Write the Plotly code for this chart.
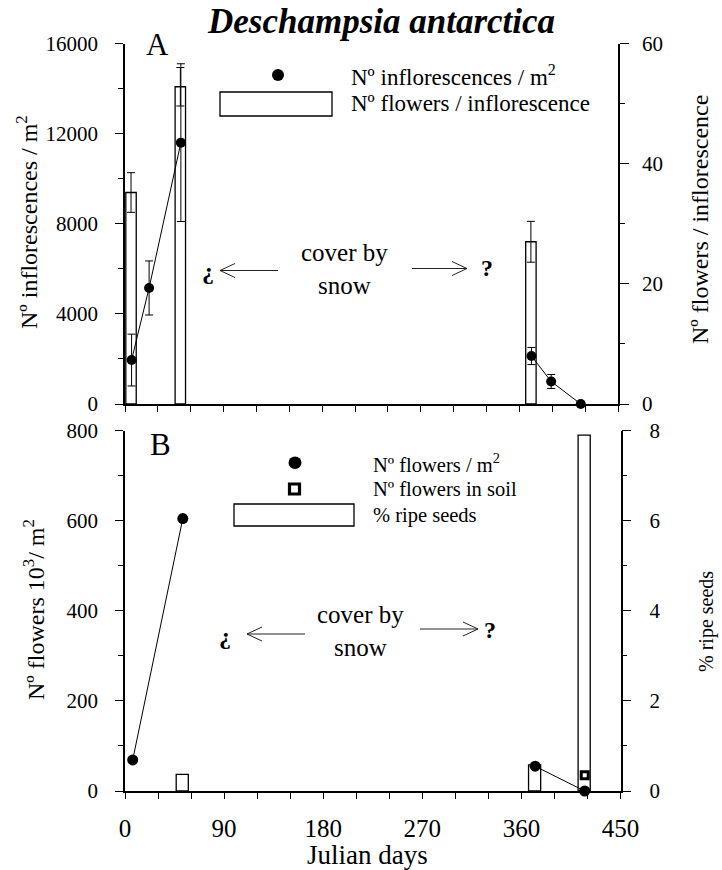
import plotly.graph_objects as go

# ---- Panel A: inflorescence density (left axis) and flowers per inflorescence (right axis)
infl_days = [6, 22, 51, 371, 389, 416]
infl_per_m2 = [1950, 5150, 11600, 2130, 1000, 0]
infl_sd = [1150, 1200, 3500, 380, 310, 0]

fpi_days = [5.5, 50.5, 370.5]
flowers_per_infl = [35.2, 52.8, 27.0]
fpi_sd = [3.3, 3.2, 3.4]

# ---- Panel B: flower density (10^3 / m2), flowers in soil and % ripe seeds
flw_days = [7, 52.5, 372.5, 417.5]
flowers_per_m2 = [69, 605, 55, 0]
soil_days = [417.5]
flowers_in_soil = [35]
seed_days = [52, 372, 417]
ripe_seeds_pct = [0.37, 0.58, 7.9]

x_ticks = [0, 90, 180, 270, 360, 450]

W, H = 722, 870
SERIF = "Liberation Serif"


def px(x):
    return x / W


def py(y):
    return 1 - y / H


def seasons(days, *cols):
    """Split a series wherever the gap between samples spans the winter."""
    runs, start = [], 0
    for i in range(1, len(days) + 1):
        if i == len(days) or days[i] - days[i - 1] > 150:
            runs.append([days[start:i]] + [c[start:i] for c in cols])
            start = i
    return runs


fig = go.Figure()

# Panel A bars (right axis) drawn first, points on the overlaying left axis
fig.add_trace(go.Bar(
    x=fpi_days, y=flowers_per_infl, width=9.5, xaxis="x", yaxis="y",
    marker=dict(color="white", line=dict(color="black", width=1.3)),
    error_y=dict(type="data", array=fpi_sd, color="black", thickness=1, width=4),
))
for d, v, e in seasons(infl_days, infl_per_m2, infl_sd):
    fig.add_trace(go.Scatter(
        x=d, y=v, xaxis="x", yaxis="y2", mode="lines+markers", cliponaxis=False,
        line=dict(color="black", width=1),
        marker=dict(color="black", size=10),
        error_y=dict(type="data", array=e, color="black", thickness=1, width=4),
    ))

# Panel B
fig.add_trace(go.Bar(
    x=seed_days, y=ripe_seeds_pct, width=11, xaxis="x2", yaxis="y3",
    marker=dict(color="white", line=dict(color="black", width=1.3)),
))
for d, v in seasons(flw_days, flowers_per_m2):
    fig.add_trace(go.Scatter(
        x=d, y=v, xaxis="x2", yaxis="y4", mode="lines+markers", cliponaxis=False,
        line=dict(color="black", width=1),
        marker=dict(color="black", size=11),
    ))
fig.add_trace(go.Scatter(
    x=soil_days, y=flowers_in_soil, xaxis="x2", yaxis="y4", mode="markers",
    cliponaxis=False,
    marker=dict(symbol="square", color="white", size=7,
                line=dict(color="black", width=3)),
))

axis_common = dict(
    showline=True, linecolor="black", linewidth=1.5, ticks="outside",
    tickcolor="black", tickwidth=1.3, showgrid=False, zeroline=False,
    tickformat="d",
    tickfont=dict(family=SERIF, size=21, color="black"),
)

fig.update_layout(
    width=W, height=H,
    margin=dict(l=0, r=0, t=0, b=0, pad=0, autoexpand=False),
    paper_bgcolor="white", plot_bgcolor="white", showlegend=False,
    font=dict(family=SERIF, color="black"),
    xaxis=dict(axis_common, domain=[px(125), px(618)], anchor="y",
               range=[0, 450], tick0=0, dtick=30, ticklen=6,
               showticklabels=False),
    yaxis=dict(axis_common, domain=[py(404), py(43.5)], anchor="x",
               side="right", range=[0, 60], tick0=0, dtick=20, ticklen=9,
               ticklabelstandoff=9,
               minor=dict(dtick=10, ticks="outside", ticklen=5,
                          tickcolor="black", tickwidth=1.3)),
    yaxis2=dict(axis_common, overlaying="y", anchor="x", side="left",
                range=[0, 16000], tick0=0, dtick=4000, ticklen=8,
                ticklabelstandoff=13,
                minor=dict(dtick=2000, ticks="outside", ticklen=5,
                           tickcolor="black", tickwidth=1.3)),
    xaxis2=dict(axis_common, domain=[px(125), px(620.5)], anchor="y3",
                range=[0, 450], tickvals=x_ticks, ticklen=6,
                ticklabelstandoff=8,
                tickfont=dict(family=SERIF, size=25, color="black"),
                minor=dict(tick0=0, dtick=30, ticks="outside", ticklen=6,
                           tickcolor="black", tickwidth=1.3)),
    yaxis3=dict(axis_common, domain=[py(791), py(430.7)], anchor="x2",
                side="right", range=[0, 8], tick0=0, dtick=2, ticklen=9,
                ticklabelstandoff=14,
                minor=dict(dtick=1, ticks="outside", ticklen=5,
                           tickcolor="black", tickwidth=1.3)),
    yaxis4=dict(axis_common, overlaying="y3", anchor="x2", side="left",
                range=[0, 800], tick0=0, dtick=200, ticklen=8,
                ticklabelstandoff=13,
                minor=dict(dtick=100, ticks="outside", ticklen=5,
                           tickcolor="black", tickwidth=1.3)),
)

ann = []
shapes = []


def text(x, y, s, size, angle=0, xanchor="center"):
    ann.append(dict(x=px(x), y=py(y), xref="paper", yref="paper", text=s,
                    showarrow=False, textangle=angle, xanchor=xanchor,
                    yanchor="middle", align="center",
                    font=dict(family=SERIF, size=size, color="black")))


def line(x0, y0, x1, y1, width=1):
    shapes.append(dict(type="line", xref="paper", yref="paper",
                       x0=px(x0), y0=py(y0), x1=px(x1), y1=py(y1),
                       line=dict(color="#222", width=width)))


def open_arrow(tail_x, head_x, y, head_len=15, half=7):
    line(tail_x, y, head_x, y)
    s = 1 if head_x > tail_x else -1
    line(head_x - s * head_len, y - half, head_x, y)
    line(head_x - s * head_len, y + half, head_x, y)


# Titles and axis titles
text(381, 21, "<b><i>Deschampsia antarctica</i></b>", 35)
text(157, 44, "A", 31)
text(160, 444, "B", 31)
text(27, 222, "Nº inflorescences / m<sup>2</sup>", 24, angle=-90)
text(700, 220, "Nº flowers / inflorescence", 24, angle=-90)
text(34, 610, "Nº flowers 10<sup>3</sup>/ m<sup>2</sup>", 24, angle=-90)
text(706, 622, "% ripe seeds", 20, angle=-90)
text(367, 855, "Julian days", 27)

# Legend, panel A
shapes.append(dict(type="circle", xref="paper", yref="paper",
                   x0=px(272), x1=px(284), y0=py(69), y1=py(81),
                   fillcolor="black", line=dict(color="black", width=0)))
shapes.append(dict(type="rect", xref="paper", yref="paper",
                   x0=px(220), x1=px(332), y0=py(116), y1=py(92),
                   fillcolor="white", line=dict(color="black", width=1.3)))
text(349, 75, "Nº inflorescences / m<sup>2</sup>", 23, xanchor="left")
text(349, 104, "Nº flowers / inflorescence", 23, xanchor="left")

# Legend, panel B
shapes.append(dict(type="circle", xref="paper", yref="paper",
                   x0=px(288.5), x1=px(301.5), y0=py(456.5), y1=py(469),
                   fillcolor="black", line=dict(color="black", width=0)))
shapes.append(dict(type="rect", xref="paper", yref="paper",
                   x0=px(289.5), x1=px(299.5), y0=py(494), y1=py(484),
                   fillcolor="white", line=dict(color="black", width=3.2)))
shapes.append(dict(type="rect", xref="paper", yref="paper",
                   x0=px(234), x1=px(354), y0=py(526), y1=py(504),
                   fillcolor="white", line=dict(color="black", width=1.3)))
text(371, 463, "Nº flowers / m<sup>2</sup>", 20.5, xanchor="left")
text(371, 489, "Nº flowers in soil", 20.5, xanchor="left")
text(371, 515, "% ripe seeds", 20.5, xanchor="left")

# Snow-cover notes, panel A
text(344, 269, "cover by<br>snow", 25)
text(208, 271, "<b>¿</b>", 24)
open_arrow(278, 220, 270.5)
open_arrow(412, 467, 268.5)
text(487, 268, "<b>?</b>", 24)

# Snow-cover notes, panel B
text(360, 631, "cover by<br>snow", 25)
text(225, 636, "<b>¿</b>", 24)
open_arrow(305, 247, 634)
open_arrow(420, 478, 629)
text(490, 630, "<b>?</b>", 24)

fig.update_layout(annotations=ann, shapes=shapes)
fig.write_html("out.html")
